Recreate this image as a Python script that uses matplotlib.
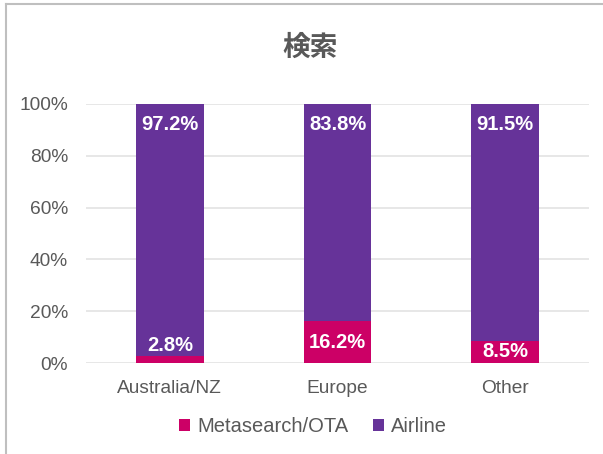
import matplotlib
matplotlib.use("Agg")
import matplotlib.pyplot as plt
from matplotlib.lines import Line2D
import numpy as np

categories = ["Australia/NZ", "Europe", "Other"]
metasearch = [2.8, 16.2, 8.5]
airline = [97.2, 83.8, 91.5]
series_names = ["Metasearch/OTA", "Airline"]
yticks = [0, 20, 40, 60, 80, 100]
title = "検索"

PINK = "#CC0066"
PURPLE = "#663399"
GRAY = "#595959"

plt.rcParams["font.family"] = ["Liberation Sans", "Noto Sans CJK JP", "DejaVu Sans"]

W, H = 603, 454
fig = plt.figure(figsize=(W / 100, H / 100), dpi=100)
ax = fig.add_axes([86 / W, 1 - 363 / H, (589 - 86) / W, (363 - 104) / H])

x = np.arange(len(categories))
bw = 0.405
ax.bar(x, metasearch, bw, color=PINK, label=series_names[0], zorder=3)
ax.bar(x, airline, bw, bottom=metasearch, color=PURPLE, label=series_names[1], zorder=3)

LBL = 14.5
for xi, m, a in zip(x, metasearch, airline):
    if m < 5:
        ax.text(xi, m + 4.0, f"{m:.1f}%", ha="center", va="center", color="white",
                fontsize=LBL, fontweight="bold", zorder=4)
    else:
        ax.text(xi, m / 2, f"{m:.1f}%", ha="center", va="center", color="white",
                fontsize=LBL, fontweight="bold", zorder=4)
    ax.text(xi, m + a - 8.1, f"{a:.1f}%", ha="center", va="center", color="white",
            fontsize=LBL, fontweight="bold", zorder=4)

ax.set_xlim(-0.5, len(categories) - 0.5)
ax.set_ylim(0, 100)
ax.set_yticks(yticks)
ax.set_yticklabels([f"{t}%" for t in yticks])
ax.set_xticks(x)
ax.set_xticklabels(categories)
ax.tick_params(axis="both", length=0, labelsize=13.8, colors=GRAY)
ax.tick_params(axis="y", pad=13)
ax.tick_params(axis="x", pad=12)
for s in ax.spines.values():
    s.set_visible(False)
ax.yaxis.grid(True, color="#E3E3E3", linewidth=1.2, zorder=0)
ax.set_axisbelow(True)

fig.text(310 / W, 1 - 48 / H, title, ha="center", va="center", fontsize=20,
         fontweight="bold", color=GRAY, family=["Noto Sans CJK JP", "DejaVu Sans"])

leg = fig.legend(loc="center", bbox_to_anchor=(313 / W, 1 - 427 / H), ncol=2,
                 frameon=False, fontsize=14.5, handlelength=0.55, handleheight=0.55,
                 handletextpad=0.35, columnspacing=1.2)
for t in leg.get_texts():
    t.set_color(GRAY)

# chart frame border
fig.add_artist(Line2D([6 / W, 6 / W], [0, 1 - 4 / H], transform=fig.transFigure,
                      color="#BFBFBF", linewidth=1.5))
fig.add_artist(Line2D([6 / W, 1], [1 - 4 / H, 1 - 4 / H], transform=fig.transFigure,
                      color="#BFBFBF", linewidth=1.5))

fig.savefig("out.png", dpi=100)
